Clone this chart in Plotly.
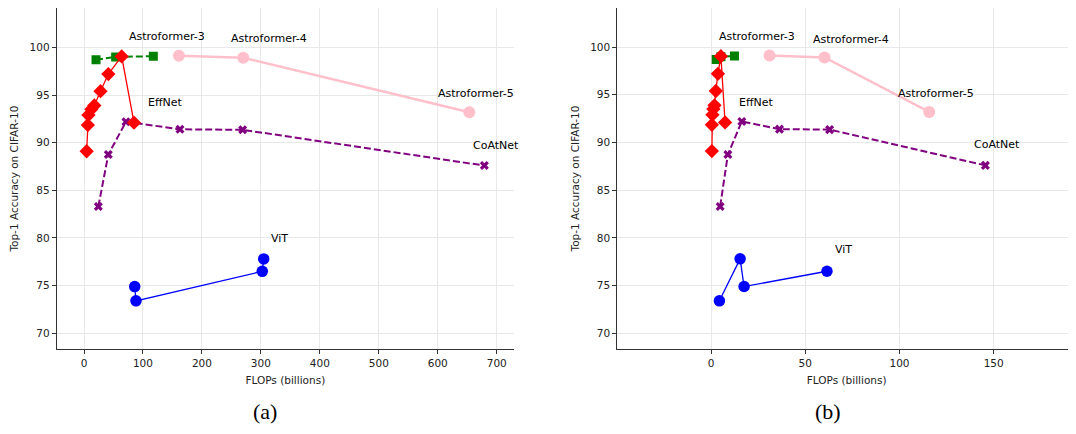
import plotly.graph_objects as go

# ---------------- data ----------------
acc_effnet = [89.1, 91.85, 92.9, 93.5, 93.9, 95.4, 97.2, 99.05, 92.1]
flops_a_effnet = [4.5, 6.5, 7.5, 12.5, 17.5, 28.0, 41.3, 63.9, 84.8]
flops_b_effnet = [0.4, 0.4, 0.7, 1.2, 1.8, 2.5, 3.6, 5.2, 7.4]

acc_green = [98.7, 99.0, 99.07]
flops_a_green = [20.4, 53.7, 117.6]
flops_b_green = [2.7, 5.2, 12.4]

acc_astro = [99.13, 98.92, 93.2]
flops_a_astro = [161.0, 270.0, 653.5]
flops_b_astro = [31.0, 60.2, 115.8]

acc_coatnet = [83.3, 88.75, 92.2, 91.4, 91.35, 87.6]
flops_a_coatnet = [24.3, 41.2, 71.2, 162.8, 269.1, 679.0]
flops_b_coatnet = [4.8, 8.9, 16.3, 36.3, 62.9, 145.6]

acc_vit_a = [74.9, 73.4, 76.5, 77.8]
flops_a_vit = [86.0, 88.2, 302.4, 304.8]
acc_vit_b = [73.4, 77.8, 74.9, 76.5]
flops_b_vit = [4.4, 15.4, 17.5, 61.5]

label_names = ["Astroformer-3", "Astroformer-4", "Astroformer-5", "CoAtNet", "EffNet", "ViT"]
label_a_x = [140.3, 314.3, 664.3, 698.3, 137.4, 331.3]
label_a_y = [101.1, 100.9, 95.2, 89.75, 94.2, 79.94]
label_b_x = [24.6, 74.4, 119.4, 151.8, 23.9, 70.1]
label_b_y = [101.09, 100.8, 95.14, 89.8, 94.18, 78.74]

x_ticks_a = [0, 100, 200, 300, 400, 500, 600, 700]
x_ticks_b = [0, 50, 100, 150]
y_ticks = [70, 75, 80, 85, 90, 95, 100]

W, H = 1076, 434
OFF = 8  # page body margin offset compensation
FONT = "DejaVu Sans"

fig = go.Figure()

def add_panel(xs, suffix):
    xa = "x" + suffix
    ya = "y" + suffix
    (fx_eff, fx_green, fx_astro, fx_coat, fx_vit, acc_vit) = xs
    fig.add_trace(go.Scatter(x=fx_green, y=acc_green, mode="lines+markers",
                             line=dict(color="green", width=2, dash="7px,3px"),
                             marker=dict(symbol="square", size=9, color="green"),
                             xaxis=xa, yaxis=ya, showlegend=False))
    fig.add_trace(go.Scatter(x=fx_astro, y=acc_astro, mode="lines+markers",
                             line=dict(color="pink", width=2.5),
                             marker=dict(symbol="circle", size=12, color="pink"),
                             xaxis=xa, yaxis=ya, showlegend=False))
    fig.add_trace(go.Scatter(x=fx_coat, y=acc_coatnet, mode="lines+markers",
                             line=dict(color="purple", width=2, dash="7px,3px"),
                             marker=dict(symbol="x", size=8, color="purple"),
                             xaxis=xa, yaxis=ya, showlegend=False))
    fig.add_trace(go.Scatter(x=fx_vit, y=acc_vit, mode="lines+markers",
                             line=dict(color="blue", width=1.3),
                             marker=dict(symbol="circle", size=11.5, color="blue"),
                             xaxis=xa, yaxis=ya, showlegend=False))
    fig.add_trace(go.Scatter(x=fx_eff, y=acc_effnet, mode="lines+markers",
                             line=dict(color="red", width=1.3),
                             marker=dict(symbol="diamond", size=11, color="red"),
                             xaxis=xa, yaxis=ya, showlegend=False))

add_panel((flops_a_effnet, flops_a_green, flops_a_astro, flops_a_coatnet, flops_a_vit, acc_vit_a), "")
add_panel((flops_b_effnet, flops_b_green, flops_b_astro, flops_b_coatnet, flops_b_vit, acc_vit_b), "2")

annotations = []
for n, x, y in zip(label_names, label_a_x, label_a_y):
    annotations.append(dict(x=x, y=y, xref="x", yref="y", text=n, showarrow=False,
                            xanchor="center", yanchor="middle",
                            font=dict(family=FONT, size=11, color="black")))
for n, x, y in zip(label_names, label_b_x, label_b_y):
    annotations.append(dict(x=x, y=y, xref="x2", yref="y2", text=n, showarrow=False,
                            xanchor="center", yanchor="middle",
                            font=dict(family=FONT, size=11, color="black")))
annotations.append(dict(x=(265 - OFF) / W, y=1 - (411 - OFF) / H, xref="paper", yref="paper",
                        text="(a)", showarrow=False, xanchor="center", yanchor="middle",
                        font=dict(family="Liberation Serif", size=22, color="black")))
annotations.append(dict(x=(828 - OFF) / W, y=1 - (411 - OFF) / H, xref="paper", yref="paper",
                        text="(b)", showarrow=False, xanchor="center", yanchor="middle",
                        font=dict(family="Liberation Serif", size=22, color="black")))

def xaxis_cfg(domain, rng, ticks):
    return dict(domain=domain, range=rng, tickmode="array", tickvals=ticks,
                automargin=False,
                showline=True, linecolor="#333333", linewidth=1, mirror=False,
                ticks="outside", ticklen=4, tickwidth=1, tickcolor="#333333",
                showgrid=True, gridcolor="#e8e8e8", gridwidth=1, zeroline=False,
                tickfont=dict(family=FONT, size=10.5, color="#222222"),
                title=dict(text="FLOPs (billions)", standoff=9,
                           font=dict(family=FONT, size=10.5, color="#222222")))

def yaxis_cfg(domain, anchor):
    return dict(domain=domain, range=[68.35, 104.1], tickmode="array", tickvals=y_ticks,
                anchor=anchor, automargin=False,
                showline=True, linecolor="#333333", linewidth=1, mirror=False,
                ticks="outside", ticklen=4, tickwidth=1, tickcolor="#333333",
                showgrid=True, gridcolor="#e8e8e8", gridwidth=1, zeroline=False,
                tickfont=dict(family=FONT, size=10.5, color="#222222"),
                title=dict(text="Top-1 Accuracy on CIFAR-10", standoff=8,
                           font=dict(family=FONT, size=10.5, color="#222222")))

xa = xaxis_cfg([(56.7 - OFF) / W, (514 - OFF) / W], [-46.3, 729.3], x_ticks_a)
xa["anchor"] = "y"
xb = xaxis_cfg([(617.3 - OFF) / W, (1076 - OFF) / W], [-49.8, 193.7], x_ticks_b)
xb["anchor"] = "y2"

y_bottom = 1 - (349 - OFF) / H
fig.update_layout(
    width=W, height=H,
    margin=dict(l=0, r=0, t=0, b=0),
    paper_bgcolor="white", plot_bgcolor="white",
    xaxis=xa, xaxis2=xb,
    yaxis=yaxis_cfg([y_bottom, 1 - max(8.3 - OFF, 0) / H], "x"),
    yaxis2=yaxis_cfg([y_bottom, 1 - max(4 - OFF, 0) / H], "x2"),
    annotations=annotations,
    showlegend=False,
)

fig.write_html("out.html")
